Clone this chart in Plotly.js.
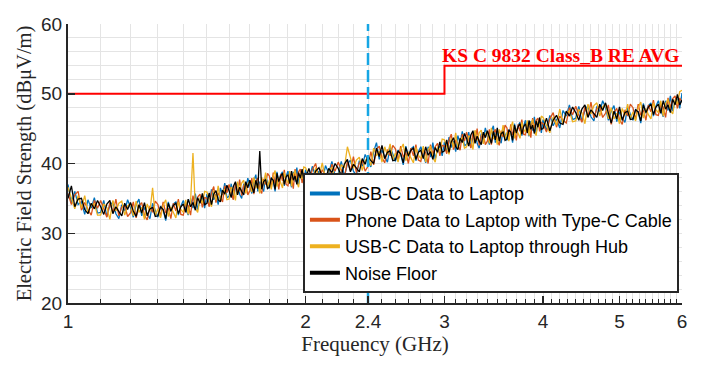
<!DOCTYPE html>
<html><head><meta charset="utf-8">
<script src="https://cdn.plot.ly/plotly-3.0.1.min.js"></script>
<style>html,body{margin:0;padding:0;background:#fff;}#chart{width:703px;height:373px;}</style>
</head><body><div id="chart"></div>
<script>
const freqGHz = [
1.00,1.01,1.02,1.03,1.04,1.05,1.06,1.07,1.08,1.09,
1.10,1.11,1.12,1.13,1.14,1.15,1.16,1.17,1.18,1.19,
1.20,1.21,1.22,1.23,1.24,1.25,1.26,1.27,1.28,1.29,
1.30,1.31,1.32,1.33,1.34,1.35,1.36,1.37,1.38,1.39,
1.40,1.41,1.42,1.43,1.44,1.45,1.46,1.47,1.48,1.49,
1.50,1.51,1.52,1.53,1.54,1.55,1.56,1.57,1.58,1.59,
1.60,1.61,1.62,1.63,1.64,1.65,1.66,1.67,1.68,1.69,
1.70,1.71,1.72,1.73,1.74,1.75,1.76,1.77,1.78,1.79,
1.80,1.81,1.82,1.83,1.84,1.85,1.86,1.87,1.88,1.89,
1.90,1.91,1.92,1.93,1.94,1.95,1.96,1.97,1.98,1.99,
2.00,2.02,2.04,2.06,2.08,2.10,2.12,2.14,2.16,2.18,
2.20,2.22,2.24,2.26,2.28,2.30,2.32,2.34,2.36,2.38,
2.40,2.42,2.44,2.46,2.48,2.50,2.52,2.54,2.56,2.58,
2.60,2.62,2.64,2.66,2.68,2.70,2.72,2.74,2.76,2.78,
2.80,2.82,2.84,2.86,2.88,2.90,2.92,2.94,2.96,2.98,
3.00,3.02,3.04,3.06,3.08,3.10,3.12,3.14,3.16,3.18,
3.20,3.22,3.24,3.26,3.28,3.30,3.32,3.34,3.36,3.38,
3.40,3.42,3.44,3.46,3.48,3.50,3.52,3.54,3.56,3.58,
3.60,3.62,3.64,3.66,3.68,3.70,3.72,3.74,3.76,3.78,
3.80,3.82,3.84,3.86,3.88,3.90,3.92,3.94,3.96,3.98,
4.00,4.04,4.08,4.12,4.16,4.20,4.24,4.28,4.32,4.36,
4.40,4.44,4.48,4.52,4.56,4.60,4.64,4.68,4.72,4.76,
4.80,4.84,4.88,4.92,4.96,5.00,5.04,5.08,5.12,5.16,
5.20,5.24,5.28,5.32,5.36,5.40,5.44,5.48,5.52,5.56,
5.60,5.64,5.68,5.72,5.76,5.80,5.84,5.88,5.92,5.96,
6.00];

const usbcToLaptop = [
37.0,34.3,36.0,34.1,34.5,32.7,34.8,33.6,35.1,32.9,
33.0,34.7,32.4,34.0,34.5,32.8,32.1,34.1,33.2,34.8,
33.7,32.3,34.1,34.9,32.5,33.7,32.8,32.1,34.3,33.2,
32.3,33.9,33.4,31.8,34.5,33.1,34.2,34.5,32.6,33.9,
34.7,33.5,32.6,35.0,33.6,35.7,33.4,34.8,35.1,33.6,
35.6,34.0,36.3,34.8,35.6,34.1,36.5,35.5,37.2,35.1,
35.3,37.1,34.9,36.7,37.2,35.6,35.0,37.1,36.3,37.9,
36.9,35.7,37.5,38.4,36.0,37.4,36.6,36.0,38.3,37.2,
36.4,38.0,37.6,36.0,38.8,37.3,38.4,38.8,36.8,38.2,
38.9,37.6,36.6,38.8,37.4,39.4,37.0,38.4,38.6,37.1,
39.1,37.5,39.6,38.1,38.9,37.4,39.7,38.6,40.3,38.2,
38.5,40.3,38.1,39.9,40.5,38.9,38.3,40.4,39.6,41.3,
40.4,39.5,41.7,43.0,40.6,41.9,41.0,40.2,42.4,41.2,
40.3,41.9,41.4,39.8,42.5,41.0,42.1,42.4,40.4,41.7,
42.4,41.2,40.1,42.4,40.9,43.0,40.6,42.1,42.5,41.1,
43.1,41.6,43.8,42.3,43.2,41.7,44.0,42.9,44.6,42.5,
42.8,44.5,42.3,44.0,44.6,42.9,42.2,44.3,43.4,45.1,
44.0,42.7,44.6,45.4,43.0,44.4,43.5,42.9,45.1,44.1,
43.3,44.9,44.5,43.0,45.7,44.3,45.5,45.9,44.0,45.4,
46.2,44.9,43.9,46.1,44.7,46.7,44.4,45.7,46.0,44.4,
46.3,44.7,46.9,45.4,46.4,45.1,47.6,46.8,48.4,46.3,
46.5,48.2,46.0,47.7,48.3,46.7,46.1,48.2,47.4,49.0,
48.0,46.2,47.5,48.3,46.0,47.4,46.5,45.9,48.1,47.1,
46.2,47.8,47.4,45.8,48.6,47.2,48.3,48.7,46.8,48.2,
49.0,47.7,46.7,49.0,47.6,49.7,47.5,48.9,49.3,47.9,
50.1];

const phoneTypeCToLaptop = [
35.7,34.1,35.5,36.0,33.3,34.4,33.4,32.6,34.7,33.6,
34.7,33.4,32.3,34.4,32.9,34.9,32.5,33.8,34.0,32.4,
32.9,34.5,32.2,33.9,34.4,32.6,31.9,33.9,33.0,34.6,
34.1,32.4,34.5,32.9,33.6,32.1,34.3,33.2,34.9,32.7,
32.6,34.3,34.0,32.6,35.4,34.0,35.2,35.6,33.7,35.1,
35.0,33.8,35.8,36.7,34.4,35.8,35.1,34.5,36.8,35.8,
37.0,35.8,34.8,37.1,35.6,37.7,35.4,36.8,37.1,35.5,
36.1,37.9,35.6,37.4,37.9,36.3,35.7,37.8,37.0,38.6,
38.2,36.5,38.7,37.1,37.9,36.3,38.5,37.5,39.1,37.0,
36.8,38.4,38.0,36.4,39.2,37.7,38.8,39.2,37.2,38.6,
38.5,37.3,39.1,40.0,37.7,39.1,38.3,37.6,39.9,38.9,
40.2,39.0,38.0,40.3,38.9,41.0,38.7,40.1,40.4,38.9,
39.6,41.7,39.8,42.0,42.5,40.8,40.1,42.0,41.1,42.6,
42.1,40.4,42.5,40.9,41.6,40.0,42.2,41.1,42.7,40.5,
40.3,42.0,41.5,40.0,42.7,41.3,42.4,42.9,41.1,42.6,
42.5,41.4,43.3,44.2,42.0,43.4,42.6,41.9,44.2,43.2,
44.5,43.2,42.2,44.4,43.0,45.0,42.6,44.0,44.2,42.7,
43.2,44.9,42.7,44.4,44.9,43.3,42.6,44.7,43.8,45.5,
45.1,43.4,45.6,44.1,44.8,43.3,45.6,44.6,46.3,44.2,
44.1,45.7,45.3,43.7,46.5,45.0,46.2,46.5,44.6,45.9,
45.7,44.5,46.4,47.3,45.2,46.8,46.2,45.8,48.0,47.0,
48.2,46.9,45.9,48.1,46.7,48.8,46.5,47.9,48.2,46.6,
47.2,48.4,45.6,47.3,47.9,46.3,45.6,47.7,46.8,48.5,
48.0,46.3,48.5,46.9,47.7,46.2,48.4,47.4,49.1,47.0,
46.9,48.5,48.1,46.6,49.4,48.0,49.3,49.7,47.9,49.4,
48.8];

const usbcHubToLaptop = [
36.6,35.0,33.5,35.4,33.6,35.4,32.9,34.1,34.2,32.6,
32.6,34.2,33.7,32.0,34.7,33.2,34.3,34.6,32.6,33.9,
34.3,32.5,34.6,33.0,33.7,32.0,34.2,33.1,36.5,32.5,
33.5,32.2,34.0,34.8,32.4,33.8,32.9,32.2,34.5,33.4,
33.0,34.8,32.7,34.6,41.5,33.6,33.0,35.1,34.3,36.0,
35.9,34.7,33.8,36.1,34.7,36.8,34.6,36.0,36.3,34.8,
34.9,36.6,36.2,34.7,37.4,36.0,37.2,37.6,35.7,37.0,
37.5,35.9,38.0,36.5,37.2,35.7,38.0,37.0,38.7,36.5,
37.6,36.3,38.2,39.0,36.7,38.0,37.1,36.5,38.7,37.7,
37.2,38.9,36.7,38.4,39.0,37.3,36.6,38.7,37.8,39.5,
39.4,38.2,37.1,39.4,38.0,40.1,37.8,39.1,39.4,37.9,
38.1,39.8,39.4,42.4,40.7,39.3,40.5,40.9,39.0,40.4,
41.0,39.7,42.2,41.1,41.8,40.2,42.4,41.2,42.8,40.5,
41.5,40.2,42.0,42.8,40.4,41.7,40.8,40.1,42.3,41.2,
40.7,42.5,40.2,42.0,42.5,40.9,40.2,42.4,41.7,43.5,
43.4,42.3,41.3,43.6,42.3,44.4,42.1,43.4,43.7,42.2,
42.4,44.0,43.6,42.0,44.8,43.3,44.4,44.8,42.8,44.2,
44.6,42.9,45.1,43.5,44.2,42.7,44.9,43.9,45.5,43.4,
44.5,43.2,45.1,46.0,43.6,45.0,44.2,43.6,45.9,44.9,
44.5,46.2,44.0,45.7,46.3,44.6,44.0,46.0,45.2,46.8,
46.6,45.4,44.4,46.7,45.5,47.8,45.7,47.3,47.5,46.0,
46.1,47.7,47.3,45.7,48.5,47.1,48.3,48.7,46.8,48.1,
48.6,46.4,48.0,46.4,47.2,45.7,47.9,46.9,48.5,46.4,
47.4,46.1,48.0,48.8,46.5,47.9,47.0,46.4,48.7,47.7,
47.3,49.0,46.8,48.6,49.2,47.6,47.1,49.2,48.5,50.3,
50.5];

const noiseFloor = [
35.0,36.8,33.8,34.9,35.0,33.4,32.8,34.3,33.5,34.7,
33.8,32.7,34.2,34.7,32.8,33.8,33.1,32.5,34.3,33.4,
34.4,33.2,32.4,34.1,32.9,34.4,32.5,33.5,33.7,32.4,
32.5,33.8,33.4,32.1,34.3,33.2,34.0,34.3,32.8,33.8,
34.2,33.0,34.9,33.8,34.4,33.3,35.1,34.3,35.7,34.1,
34.3,35.8,34.1,35.6,36.1,34.8,34.5,36.2,35.6,36.9,
36.1,35.1,36.7,37.4,35.5,36.6,36.0,35.5,37.4,36.5,
37.6,36.6,35.8,37.6,36.4,41.8,36.3,37.4,37.7,36.4,
36.6,37.9,37.6,36.3,38.6,37.4,38.2,38.6,37.0,38.1,
38.4,37.1,38.9,37.6,38.2,37.0,38.7,37.9,39.2,37.6,
37.8,39.3,37.4,38.9,39.4,38.1,37.7,39.3,38.7,40.0,
39.3,38.3,39.9,40.6,38.8,39.9,39.3,38.8,40.7,39.9,
41.1,40.4,40.0,42.2,41.0,42.6,40.7,41.6,41.8,40.4,
40.5,41.8,41.4,40.1,42.3,41.1,41.9,42.2,40.6,41.6,
41.9,40.7,42.4,41.2,41.7,40.6,42.3,41.6,43.1,41.6,
41.8,43.4,41.6,43.1,43.7,42.4,42.0,43.6,43.0,44.3,
43.6,42.5,44.1,44.7,42.9,43.9,43.2,42.7,44.5,43.7,
44.7,43.6,42.9,44.6,43.4,45.1,43.2,44.3,44.5,43.3,
43.5,44.8,44.5,43.3,45.5,44.4,45.3,45.7,44.2,45.3,
45.7,44.4,46.2,44.9,45.5,44.3,46.1,45.2,46.6,44.9,
45.0,46.5,44.7,46.2,46.9,45.8,45.6,47.5,46.8,48.1,
47.3,46.2,47.8,48.4,46.6,47.7,47.1,46.6,48.5,47.6,
48.7,47.1,45.8,47.5,46.4,48.1,46.2,47.3,47.5,46.3,
46.4,47.7,47.4,46.1,48.4,47.3,48.1,48.5,47.0,48.1,
48.5,47.2,49.0,47.8,48.4,47.3,49.2,48.4,49.9,48.4,
49.1];

const limitFreq = [1, 3, 3, 6];
const limitLevel = [50, 50, 54, 54];
const limitLabel = 'KS C 9832 Class_B RE AVG';
const wifiFreq = [2.4, 2.4];
const wifiSpan = [20, 60];

const seriesNames = [
  'USB-C Data to Laptop',
  'Phone Data to Laptop with Type-C Cable',
  'USB-C Data to Laptop through Hub',
  'Noise Floor'
];
const seriesColors = ['#0072BD', '#D95319', '#EDB120', '#000000'];

const xTickVals = [1, 2, 2.4, 3, 4, 5, 6];
const xTickText = ['1', '2', '2.4', '3', '4', '5', '6'];
const xMinorTicks = [1.1,1.2,1.3,1.4,1.5,1.6,1.7,1.8,1.9,
  2.1,2.2,2.3,2.5,2.6,2.7,2.8,2.9,
  3.1,3.2,3.3,3.4,3.5,3.6,3.7,3.8,3.9,
  4.1,4.2,4.3,4.4,4.5,4.6,4.7,4.8,4.9,
  5.1,5.2,5.3,5.4,5.5,5.6,5.7,5.8,5.9];
const yTickVals = [20, 30, 40, 50, 60];

const seriesData = [usbcToLaptop, phoneTypeCToLaptop, usbcHubToLaptop, noiseFloor];

const serif = '"Liberation Serif", "Times New Roman", serif';
const sans = '"Liberation Sans", Arial, sans-serif';
const axisColor = '#262626';
const gridColor = '#e4e4e4';

const traces = [];
seriesNames.forEach((name, i) => {
  traces.push({
    type: 'scatter', mode: 'lines', name: name,
    x: [null], y: [null],
    line: {color: seriesColors[i], width: 4},
    showlegend: true, hoverinfo: 'skip'
  });
});
seriesData.forEach((vals, i) => {
  traces.push({
    type: 'scatter', mode: 'lines', name: seriesNames[i],
    x: freqGHz, y: vals,
    line: {color: seriesColors[i], width: 1.3},
    showlegend: false
  });
});
traces.push({
  type: 'scatter', mode: 'lines', name: limitLabel,
  x: limitFreq, y: limitLevel,
  line: {color: '#ff0000', width: 2},
  showlegend: false
});
traces.push({
  type: 'scatter', mode: 'lines', name: '2.4 GHz',
  x: wifiFreq, y: wifiSpan,
  line: {color: '#16a6e4', width: 2.5, dash: '12px,5px'},
  showlegend: false
});

const layout = {
  width: 703, height: 373,
  margin: {l: 68, r: 21, t: 24, b: 70},
  paper_bgcolor: '#ffffff', plot_bgcolor: '#ffffff',
  font: {family: sans, size: 19, color: axisColor},
  showlegend: true,
  legend: {
    x: 0.995, xanchor: 'right', y: 0.035, yanchor: 'bottom',
    bgcolor: '#ffffff', bordercolor: axisColor, borderwidth: 2,
    font: {family: sans, size: 18, color: '#000000'},
    tracegroupgap: 0, itemwidth: 30
  },
  xaxis: {
    type: 'log', range: [0, Math.log10(6)],
    tickmode: 'array', tickvals: xTickVals, ticktext: xTickText,
    ticks: 'inside', ticklen: 7, tickwidth: 1.5, tickcolor: axisColor,
    showline: true, linecolor: axisColor, linewidth: 2, mirror: false,
    showgrid: true, gridcolor: gridColor, gridwidth: 1, zeroline: false,
    tickfont: {family: sans, size: 19, color: axisColor},
    minor: {tickmode: 'array', tickvals: xMinorTicks, ticks: 'inside', ticklen: 4,
            tickwidth: 1, tickcolor: axisColor, showgrid: true, gridcolor: gridColor, gridwidth: 1},
    title: {text: 'Frequency (GHz)', font: {family: serif, size: 21, color: axisColor}, standoff: 4}
  },
  yaxis: {
    range: [20, 60], tickmode: 'array', tickvals: yTickVals,
    ticks: 'inside', ticklen: 7, tickwidth: 1.5, tickcolor: axisColor,
    showline: true, linecolor: axisColor, linewidth: 2, mirror: false,
    showgrid: true, gridcolor: gridColor, gridwidth: 1, zeroline: false,
    tickfont: {family: sans, size: 19, color: axisColor},
    minor: {dtick: 2, showgrid: true, gridcolor: gridColor, gridwidth: 1},
    title: {text: 'Electric Field Strength (dBμV/m)', font: {family: serif, size: 20.5, color: axisColor}, standoff: 4}
  },
  annotations: [{
    text: '<b>' + limitLabel + '</b>',
    xref: 'paper', x: 1, xanchor: 'right',
    yref: 'y', y: limitLevel[2], yanchor: 'bottom', yshift: -2,
    showarrow: false,
    font: {family: serif, size: 19.5, color: '#ff0000'}
  }]
};

Plotly.newPlot('chart', traces, layout, {displayModeBar: false, staticPlot: true});
</script>
</body></html>
